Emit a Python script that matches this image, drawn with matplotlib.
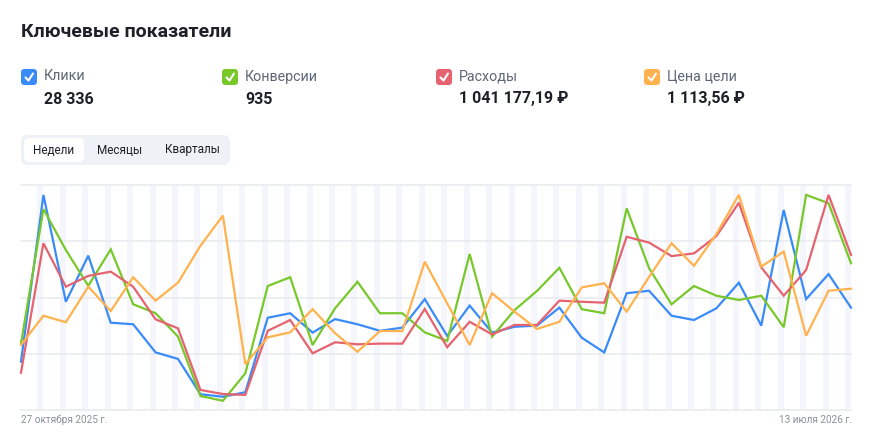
import matplotlib
matplotlib.use("Agg")
import matplotlib.pyplot as plt
from matplotlib.patches import FancyBboxPatch
import numpy as np

plt.rcParams['font.family'] = ['Roboto', 'DejaVu Sans']

W, H = 869, 437

title = "Ключевые показатели"
metric_names = ["Клики", "Конверсии", "Расходы", "Цена цели"]
metric_totals = ["28 336", "935", "1 041 177,19 ₽", "1 113,56 ₽"]
colors = ["#3a8bfa", "#78c82a", "#e5636e", "#ffb24e"]
periods = ["Недели", "Месяцы", "Кварталы"]
date_first = "27 октября 2025 г."
date_last = "13 июля 2026 г."

# normalized values (0..100 of chart height), 38 weekly points
clicks = [21.5, 95.6, 48.1, 68.6, 38.8, 38.1, 25.6, 22.7, 7.0, 5.9, 7.9, 41.0, 43.0,
          34.4, 40.4, 38.1, 35.2, 36.6, 49.3, 32.9, 46.4, 34.4, 37.0, 37.5, 45.5,
          32.1, 25.6, 51.9, 53.0, 41.9, 40.0, 45.2, 56.6, 37.5, 88.9, 49.3, 60.4, 45.5]
conversions = [29.6, 89.3, 71.1, 55.2, 71.4, 47.0, 43.0, 32.6, 6.2, 4.1, 16.3, 55.1, 59.0,
               28.9, 45.2, 57.0, 43.0, 43.0, 34.5, 30.7, 69.3, 32.6, 44.4, 52.9, 63.2,
               44.8, 43.0, 89.6, 63.0, 47.0, 55.1, 50.8, 48.9, 50.8, 36.8, 95.6, 91.9, 65.2]
costs = [16.6, 74.1, 54.8, 59.6, 61.5, 54.8, 40.3, 36.3, 8.9, 7.1, 6.7, 35.2, 40.0,
         25.2, 30.1, 29.2, 29.5, 29.5, 44.9, 27.9, 39.2, 33.6, 37.8, 37.8, 48.6,
         48.1, 47.7, 77.0, 74.4, 68.4, 69.6, 77.3, 92.1, 63.4, 50.8, 62.2, 95.6, 68.9]
goal_price = [28.9, 41.9, 39.0, 54.8, 44.0, 59.0, 48.6, 56.6, 73.0, 86.4, 20.4, 32.3, 34.5,
              44.8, 34.1, 25.9, 35.1, 35.1, 65.9, 47.4, 28.9, 51.9, 43.7, 36.0, 39.2,
              54.5, 56.3, 43.7, 59.2, 74.1, 64.1, 78.2, 95.6, 63.7, 70.4, 33.0, 53.0, 53.9]
series = [clicks, conversions, costs, goal_price]

fig = plt.figure(figsize=(W / 100, H / 100), dpi=100)
fig.patch.set_facecolor("white")

# overlay axes in pixel coordinates for header elements
ov = fig.add_axes([0, 0, 1, 1])
ov.set_xlim(0, W)
ov.set_ylim(H, 0)
ov.axis("off")

ov.text(21, 32, title, fontsize=14, fontweight="bold", color="#1d2127", va="center", ha="left")

box_x = [21, 222, 436, 644]
for bx, name, total, c in zip(box_x, metric_names, metric_totals, colors):
    ov.add_patch(FancyBboxPatch((bx + 1.5, 70.5), 13, 13, boxstyle="round,pad=1.5,rounding_size=3.5",
                                facecolor=c, edgecolor="none"))
    ov.plot([bx + 4.5, bx + 7.5, bx + 12.0], [77.5, 80.5, 73.5], color="white", lw=1.5,
            solid_capstyle="round", solid_joinstyle="round")
    ov.text(bx + 23, 76.5, name, fontsize=10.3, color="#5d6676", va="center", ha="left")
    ov.text(bx + 23, 99, total, fontsize=11.5, fontweight="bold", color="#1d2127", va="center", ha="left")

# period toggle
ov.add_patch(FancyBboxPatch((25, 139), 201, 22, boxstyle="round,pad=4,rounding_size=7",
                            facecolor="#eef1f6", edgecolor="none"))
ov.add_patch(FancyBboxPatch((27, 141), 54, 18, boxstyle="round,pad=3,rounding_size=5",
                            facecolor="white", edgecolor="none"))
for cx, p in zip([54, 120, 192], periods):
    ov.text(cx, 150, p, fontsize=8.5, color="#1d2127", va="center", ha="center")

ov.text(21, 420, date_first, fontsize=7.2, color="#8a909a", va="center", ha="left")
ov.text(852, 420, date_last, fontsize=7.2, color="#8a909a", va="center", ha="right")

# chart axes
left, right, top, bottom = 21, 851, 185, 410
ax = fig.add_axes([left / W, 1 - bottom / H, (right - left) / W, (bottom - top) / H])
ax.patch.set_alpha(0)
n = len(clicks)
xs = np.arange(n)
ax.set_xlim(0, n - 1)
ax.set_ylim(0, 100)
for s in ax.spines.values():
    s.set_visible(False)
ax.set_xticks([])
ax.set_yticks([])

stripe_w = 6 / ((right - left) / (n - 1))
for i in range(1, n):
    ax.axvspan(i - stripe_w, i, color="#f4f6fb", lw=0, zorder=0)
for g in [0, 25, 50, 75, 100]:
    ax.axhline(g, color="#e9ebef", lw=1.2, zorder=1, clip_on=False)

for vals, c in zip(series, colors):
    ax.plot(xs, vals, color=c, lw=1.6, zorder=3, clip_on=False, solid_joinstyle="miter")

fig.savefig("out.png", dpi=100, facecolor="white")
